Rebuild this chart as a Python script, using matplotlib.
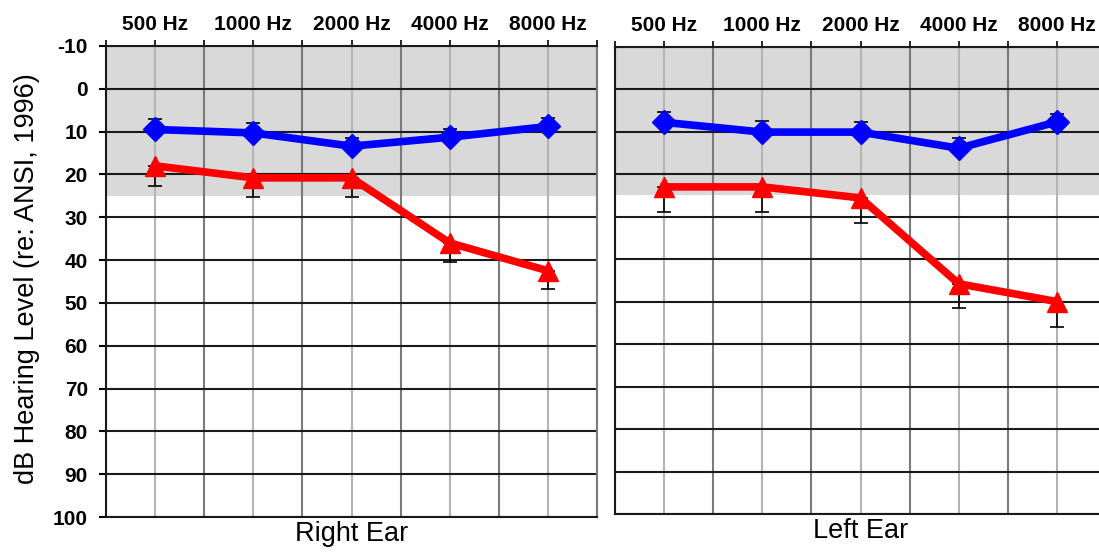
import matplotlib.pyplot as plt
import numpy as np

plt.rcParams['font.family'] = ['Liberation Sans', 'DejaVu Sans']

freqs = ["500 Hz", "1000 Hz", "2000 Hz", "4000 Hz", "8000 Hz"]
ears = ["Right Ear", "Left Ear"]

# blue = better thresholds, red = poorer thresholds (dB HL)
right_blue = [9.5, 10.3, 13.4, 11.3, 8.8]
right_blue_err = [2.5, 2.2, 2.0, 1.8, 1.9]
right_red = [18.0, 20.8, 20.8, 36.0, 42.5]
right_red_err = [4.6, 4.5, 4.5, 4.4, 4.3]

left_blue = [7.8, 10.1, 10.1, 13.9, 7.7]
left_blue_err = [2.5, 2.7, 2.4, 2.3, 1.8]
left_red = [23.0, 23.0, 25.6, 45.8, 50.0]
left_red_err = [5.8, 5.8, 6.0, 5.6, 5.9]

normal_limit = 25
y_ticks = list(range(-10, 101, 10))

fig = plt.figure(figsize=(10.99, 5.52), dpi=100)
ax_r = fig.add_axes([0.0965, 0.0634, 0.4468, 0.8533])
ax_l = fig.add_axes([0.5596, 0.0688, 0.4468, 0.8466])

x = np.arange(1, 10, 2)
panels = [
    (ax_r, right_blue, right_blue_err, right_red, right_red_err),
    (ax_l, left_blue, left_blue_err, left_red, left_red_err),
]

for i, (ax, blue, blue_err, red, red_err) in enumerate(panels):
    ax.set_xlim(0, 10)
    ax.set_ylim(100, -10)

    # normal hearing band
    ax.axhspan(-10, normal_limit, color='#d9d9d9', zorder=0, lw=0)

    for gx in range(0, 11):
        ax.axvline(gx, color='#b4b4b4' if gx % 2 else '#7a7a7a', lw=1.5, zorder=1)
    for gy in y_ticks:
        ax.axhline(gy, color='#1a1a1a', lw=1.5, zorder=1)

    ax.errorbar(x, blue, yerr=[blue_err, [0] * 5], fmt='none', ecolor='black',
                elinewidth=1.2, capsize=5, capthick=1.2, zorder=2)
    ax.errorbar(x, red, yerr=[[0] * 5, red_err], fmt='none', ecolor='black',
                elinewidth=1.2, capsize=5, capthick=1.2, zorder=2)
    ax.plot(x, blue, color='#0000ff', lw=5.5, marker='D', ms=12, zorder=3)
    ax.plot(x, red, color='#ff0000', lw=5.5, marker='^', ms=14, zorder=3)

    ax.xaxis.tick_top()
    ax.set_xticks(range(0, 11))
    ax.set_xticklabels(['' if t % 2 == 0 else freqs[t // 2] for t in range(11)],
                       fontsize=15, fontweight='bold')
    ax.tick_params(axis='x', which='both', length=4.5, width=1.2, pad=4, colors='black')

    ax.set_xlabel(ears[i], fontsize=19.5, labelpad=3)
    ax.xaxis.set_label_position('bottom')

    ax.set_yticks(y_ticks)
    if i == 0:
        ax.set_yticklabels([str(t) for t in y_ticks], fontsize=15, fontweight='bold')
        ax.tick_params(axis='y', length=5, width=1.5, pad=8)
    else:
        ax.set_yticklabels([])
        ax.tick_params(axis='y', length=0)

    for side in ['left', 'bottom', 'top']:
        ax.spines[side].set_color('#1a1a1a')
        ax.spines[side].set_linewidth(1.5)
    ax.spines['right'].set_color('#7a7a7a')
    ax.spines['right'].set_linewidth(1.5)

fig.text(0.0246, 0.4946, "dB Hearing Level (re: ANSI, 1996)", rotation=90,
         fontsize=19.5, ha='center', va='center')

fig.savefig('out.png', dpi=100)
